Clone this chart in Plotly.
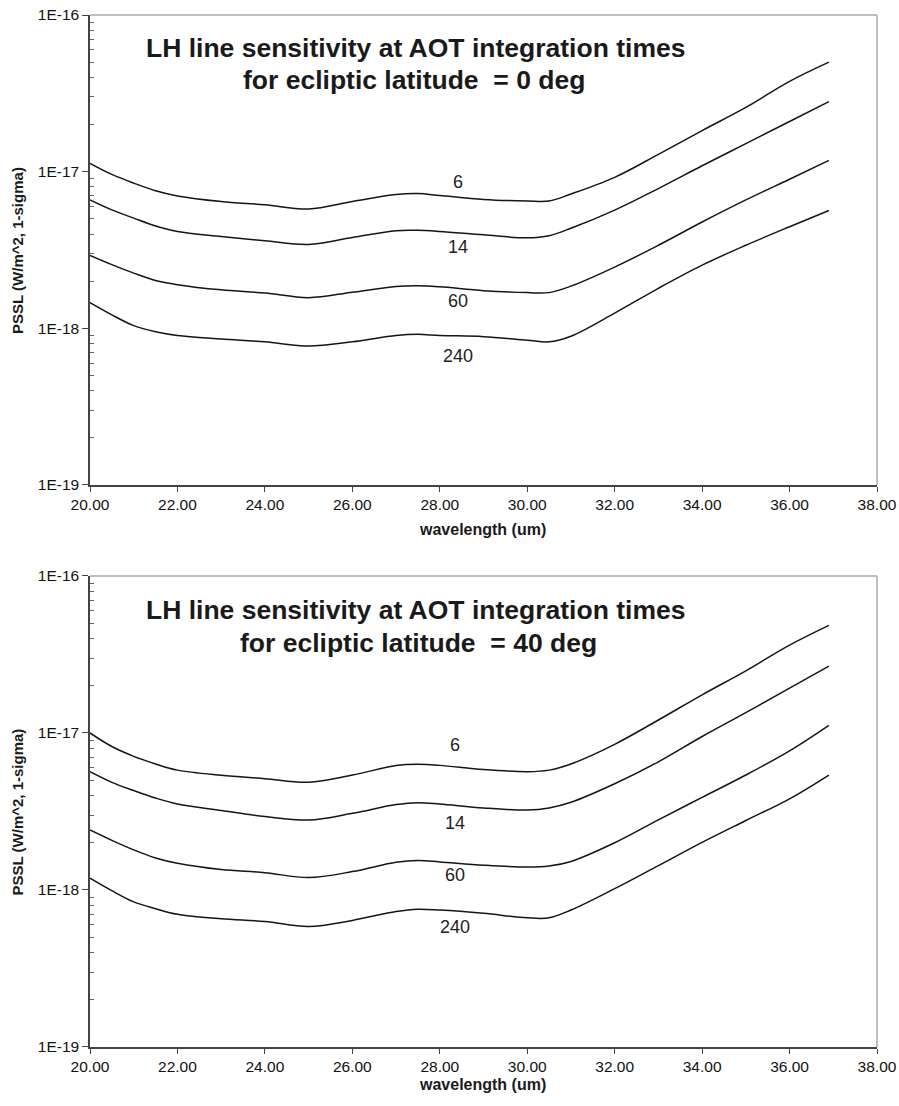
import plotly.graph_objects as go

# Wavelength grid (um)
wavelength = [20.0, 20.5, 21.0, 21.5, 22.0, 23.0, 24.0, 25.0, 26.0, 27.0, 27.5,
              28.0, 29.0, 30.0, 30.5, 31.0, 32.0, 33.0, 34.0, 35.0, 36.0, 36.9]

# Integration times (labels of the curves)
times = ["6", "14", "60", "240"]

# PSSL (W/m^2, 1-sigma) at ecliptic latitude 0 deg
lat0_t6 = [1.13e-17, 9.6e-18, 8.45e-18, 7.55e-18, 7.0e-18, 6.45e-18, 6.15e-18, 5.78e-18,
           6.45e-18, 7.15e-18, 7.25e-18, 7.05e-18, 6.65e-18, 6.5e-18, 6.5e-18, 7.2e-18,
           9.2e-18, 1.29e-17, 1.83e-17, 2.57e-17, 3.77e-17, 5.0e-17]
lat0_t14 = [6.6e-18, 5.7e-18, 5.05e-18, 4.5e-18, 4.15e-18, 3.86e-18, 3.62e-18, 3.43e-18,
            3.8e-18, 4.2e-18, 4.22e-18, 4.15e-18, 3.95e-18, 3.78e-18, 3.9e-18, 4.35e-18,
            5.68e-18, 7.8e-18, 1.09e-17, 1.51e-17, 2.09e-17, 2.8e-17]
lat0_t60 = [2.92e-18, 2.55e-18, 2.25e-18, 2.02e-18, 1.9e-18, 1.76e-18, 1.68e-18, 1.57e-18,
            1.7e-18, 1.85e-18, 1.87e-18, 1.84e-18, 1.74e-18, 1.69e-18, 1.69e-18, 1.86e-18,
            2.46e-18, 3.39e-18, 4.77e-18, 6.6e-18, 8.95e-18, 1.18e-17]
lat0_t240 = [1.46e-18, 1.22e-18, 1.04e-18, 9.5e-19, 9.0e-19, 8.55e-19, 8.2e-19, 7.7e-19,
             8.2e-19, 9.0e-19, 9.15e-19, 9.0e-19, 8.85e-19, 8.4e-19, 8.2e-19, 8.9e-19,
             1.25e-18, 1.8e-18, 2.53e-18, 3.39e-18, 4.45e-18, 5.65e-18]

# PSSL (W/m^2, 1-sigma) at ecliptic latitude 40 deg
lat40_t6 = [1.0e-17, 8.2e-18, 7.1e-18, 6.35e-18, 5.8e-18, 5.38e-18, 5.12e-18, 4.86e-18,
            5.4e-18, 6.2e-18, 6.32e-18, 6.22e-18, 5.85e-18, 5.67e-18, 5.8e-18, 6.35e-18,
            8.47e-18, 1.21e-17, 1.75e-17, 2.49e-17, 3.63e-17, 4.85e-17]
lat40_t14 = [5.67e-18, 4.85e-18, 4.3e-18, 3.85e-18, 3.53e-18, 3.21e-18, 2.94e-18, 2.79e-18,
             3.08e-18, 3.5e-18, 3.6e-18, 3.53e-18, 3.33e-18, 3.23e-18, 3.33e-18, 3.62e-18,
             4.75e-18, 6.55e-18, 9.5e-18, 1.35e-17, 1.93e-17, 2.67e-17]
lat40_t60 = [2.41e-18, 2.07e-18, 1.8e-18, 1.6e-18, 1.48e-18, 1.35e-18, 1.29e-18, 1.2e-18,
             1.31e-18, 1.5e-18, 1.54e-18, 1.51e-18, 1.44e-18, 1.4e-18, 1.42e-18, 1.52e-18,
             2.0e-18, 2.8e-18, 3.89e-18, 5.4e-18, 7.7e-18, 1.12e-17]
lat40_t240 = [1.19e-18, 9.9e-19, 8.4e-19, 7.6e-19, 7.0e-19, 6.55e-19, 6.3e-19, 5.85e-19,
              6.4e-19, 7.3e-19, 7.55e-19, 7.45e-19, 7.1e-19, 6.65e-19, 6.65e-19, 7.45e-19,
              1.02e-18, 1.43e-18, 2.01e-18, 2.77e-18, 3.81e-18, 5.4e-18]

panels = [
    {"lat": "0", "series": [lat0_t6, lat0_t14, lat0_t60, lat0_t240]},
    {"lat": "40", "series": [lat40_t6, lat40_t14, lat40_t60, lat40_t240]},
]

# Curve-label placement (wavelength, log10 PSSL) per panel
label_x = [28.42, 28.35]
label_logy = [[-17.064, -17.478, -17.828, -18.178],
              [-17.076, -17.573, -17.904, -18.236]]

y_tickvals = [1e-19, 1e-18, 1e-17, 1e-16]
y_ticktext = ["1E-19", "1E-18", "1E-17", "1E-16"]
x_tickvals = [20, 22, 24, 26, 28, 30, 32, 34, 36, 38]

FONT = "Arial, Liberation Sans, sans-serif"
minor_vals = [m * 10.0 ** e for e in (-19, -18, -17) for m in range(2, 10)]

fig = go.Figure()

domains = [[0.5446, 1.0], [0.0, 0.4564]]
heading_x = [[0.414, 0.4115], [0.414, 0.417]]
heading_dy = [[0.032, 0.063], [0.033, 0.065]]
xtitle_dy = [0.0436, 0.0368]
annotations = []
shapes = []

for i, panel in enumerate(panels):
    xa = "x" if i == 0 else "x2"
    ya = "y" if i == 0 else "y2"
    for vals in panel["series"]:
        fig.add_trace(go.Scatter(
            x=wavelength, y=vals, xaxis=xa, yaxis=ya, mode="lines",
            line=dict(color="#151515", width=1.5, shape="spline", smoothing=1.0),
            showlegend=False, hoverinfo="skip"))
    for name, ly in zip(times, label_logy[i]):
        annotations.append(dict(
            x=label_x[i], y=ly, xref=xa, yref=ya, text=name, showarrow=False,
            xanchor="center", yanchor="middle",
            font=dict(family=FONT, size=18, color="#222")))

    d0, d1 = domains[i]
    h = d1 - d0
    # two-line panel heading
    title_rows = ["LH line sensitivity at AOT integration times",
                  "for ecliptic latitude\u00a0 = " + panel["lat"] + " deg"]
    for j, txt in enumerate(title_rows):
        annotations.append(dict(
            x=heading_x[i][j], y=d1 - heading_dy[i][j],
            xref="paper", yref="paper", text="<b>" + txt + "</b>", showarrow=False,
            xanchor="center", yanchor="middle",
            font=dict(family=FONT, size=26.5, color="#1a1a1a")))
    # axis titles
    annotations.append(dict(
        x=-0.0915, y=d0 + h / 2, xref="paper", yref="paper",
        xanchor="center", yanchor="middle",
        text="<b>PSSL (W/m^2, 1-sigma)</b>", textangle=-90, showarrow=False,
        font=dict(family=FONT, size=15, color="#1a1a1a")))
    annotations.append(dict(
        x=0.4985, y=d0 - xtitle_dy[i], xref="paper", yref="paper",
        xanchor="center", yanchor="middle",
        text="<b>wavelength (um)</b>", showarrow=False,
        font=dict(family=FONT, size=16, color="#1a1a1a")))
    # light frame on top and right
    xd = xa + " domain"
    yd = ya + " domain"
    shapes.append(dict(type="line", xref=xd, yref=yd, x0=0, x1=1, y0=1, y1=1,
                       line=dict(color="#aaaaaa", width=1.5)))
    shapes.append(dict(type="line", xref=xd, yref=yd, x0=1, x1=1, y0=0, y1=1,
                       line=dict(color="#aaaaaa", width=1.5)))

xaxis_common = dict(
    range=[20, 38], tickmode="array", tickvals=x_tickvals, tickformat=".2f",
    ticks="outside", ticklen=5, tickwidth=1, tickcolor="#444", automargin=False,
    showline=True, linecolor="#444", linewidth=1.5, showgrid=False, zeroline=False,
    tickfont=dict(family=FONT, size=15.5, color="#111"))
yaxis_common = dict(
    type="log", range=[-19, -16], tickmode="array", tickvals=y_tickvals,
    ticktext=y_ticktext, ticks="outside", ticklen=6, tickwidth=1, tickcolor="#444",
    minor=dict(tickmode="array", tickvals=minor_vals, ticks="inside", ticklen=4,
               tickcolor="#666", showgrid=False),
    automargin=False,
    showline=True, linecolor="#444", linewidth=1.5, showgrid=False, zeroline=False,
    tickfont=dict(family=FONT, size=15.5, color="#111"))

fig.update_layout(
    width=899, height=1106,
    margin=dict(l=90, r=22, t=15, b=59),
    paper_bgcolor="white", plot_bgcolor="white",
    xaxis=dict(domain=[0, 1], anchor="y", **xaxis_common),
    yaxis=dict(domain=domains[0], anchor="x", **yaxis_common),
    xaxis2=dict(domain=[0, 1], anchor="y2", **xaxis_common),
    yaxis2=dict(domain=domains[1], anchor="x2", **yaxis_common),
    annotations=annotations, shapes=shapes,
)

fig.write_html("out.html")
